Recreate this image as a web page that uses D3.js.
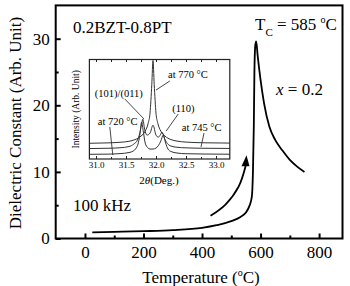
<!DOCTYPE html>
<html><head><meta charset="utf-8">
<script src="https://cdn.jsdelivr.net/npm/d3@7"></script>
<style>
body{margin:0;background:#fff}
svg{display:block}
text{font-family:"Liberation Serif","Times New Roman",serif;fill:#000}
</style>
</head><body><svg id="c" width="350" height="286"></svg>
<script>
// ---- main chart data ----
const temperature = [25, 100, 200, 300, 400, 450, 500, 530, 550, 562, 570, 574, 577, 579, 582, 585, 590, 600, 612, 630, 650, 675, 700, 725, 750];
const dielectric  = [0.93, 1.0, 1.1, 1.25, 1.6, 2.0, 2.6, 3.2, 3.9, 4.9, 6.2, 10, 17, 25, 29, 29.6, 27.5, 23.8, 20.3, 16.8, 14.8, 13.2, 11.8, 10.8, 10.0];
const xTickValues = [0, 200, 400, 600, 800];
const xMinorTicks = [100, 300, 500, 700];
const yTickValues = [0, 10, 20, 30];
const yMinorTicks = [5, 15, 25];
const arrowT = [429, 480, 525, 552];
const arrowV = [3.4, 5.1, 7.8, 12.5];

// ---- inset XRD data ----
const theta720 = [30.89, 31.2, 31.4, 31.55, 31.62, 31.67, 31.70, 31.73, 31.76, 31.79, 31.82, 31.86, 31.9, 31.95, 32.0, 32.04, 32.08, 32.12, 32.16, 32.2, 32.25, 32.35, 32.5, 32.8, 33.23];
const int720   = [4.7, 4.9, 5.4, 6.5, 8, 11, 15, 24, 37, 27, 16, 11.5, 10, 10, 11, 13.5, 18, 24, 16, 10, 7.5, 6, 5.3, 5, 4.8];
const theta745 = [30.89, 31.2, 31.4, 31.55, 31.63, 31.69, 31.73, 31.76, 31.78, 31.81, 31.85, 31.9, 31.95, 32.0, 32.04, 32.07, 32.1, 32.14, 32.19, 32.25, 32.35, 32.5, 32.8, 33.23];
const int745   = [10.5, 10.8, 11.3, 12.5, 15, 19, 26, 35, 40, 30, 24, 26, 34, 24, 22, 24, 27, 21, 15.5, 13, 11.8, 11.2, 10.8, 10.6];
const theta770 = [30.89, 31.2, 31.4, 31.55, 31.65, 31.75, 31.82, 31.87, 31.9, 31.93, 31.95, 31.97, 32.0, 32.03, 32.08, 32.15, 32.25, 32.35, 32.5, 32.8, 33.23];
const int770   = [15.8, 16.2, 16.8, 17.8, 19.5, 23, 28, 36, 46, 75, 99, 75, 46, 36, 28, 23, 19.5, 18, 17, 16.3, 16];
const insetTicks = [31.0, 31.5, 32.0, 32.5, 33.0];
const insetMinor = [31.25, 31.75, 32.25, 32.75];

const svg = d3.select("#c");
const x = d3.scaleLinear().domain([-100, 880]).range([55.7, 342.5]);
const y = d3.scaleLinear().domain([0, 35]).range([238.5, 5.4]);

// inset
const ix = d3.scaleLinear().domain([30.89, 33.23]).range([89.4, 229.8]);
const iy = d3.scaleLinear().domain([0, 100]).range([159, 59.5]);

const ink = "#222";
function zip(a, b) { return a.map((v, i) => [v, b[i]]); }

// ---- inset drawing ----
const inset = svg.append("g");
const ilinegen = d3.line().x(d => ix(d[0])).y(d => iy(d[1])).curve(d3.curveMonotoneX);
[[theta720, int720], [theta745, int745], [theta770, int770]].forEach(([t, v]) => {
  inset.append("path").datum(zip(t, v)).attr("d", ilinegen)
    .attr("fill", "none").attr("stroke", "#333").attr("stroke-width", 1);
});
inset.append("rect").attr("x", ix.range()[0]).attr("y", iy.range()[1])
  .attr("width", ix.range()[1] - ix.range()[0]).attr("height", iy.range()[0] - iy.range()[1])
  .attr("fill", "none").attr("stroke", ink).attr("stroke-width", 1.2);
const ib = inset.append("g").attr("transform", `translate(0,${iy.range()[0]})`)
  .call(d3.axisBottom(ix).tickValues(insetTicks).tickSizeInner(-3).tickSizeOuter(0).tickPadding(3).tickFormat(d3.format(".1f")));
ib.select(".domain").remove();
ib.selectAll("text").attr("font-size", 9).attr("fill", "#444").style("font-family", '"Liberation Serif",serif');
ib.selectAll("line").attr("stroke", ink);
const ibm = inset.append("g").attr("transform", `translate(0,${iy.range()[0]})`)
  .call(d3.axisBottom(ix).tickValues(insetMinor).tickSizeInner(-2).tickSizeOuter(0).tickFormat(""));
ibm.select(".domain").remove(); ibm.selectAll("line").attr("stroke", ink);
const it = inset.append("g").attr("transform", `translate(0,${iy.range()[1]})`)
  .call(d3.axisTop(ix).tickValues(insetTicks.concat(insetMinor)).tickSizeInner(-2.5).tickSizeOuter(0).tickFormat(""));
it.select(".domain").remove(); it.selectAll("line").attr("stroke", ink);

inset.append("text").attr("transform", `translate(79,${(iy.range()[0] + iy.range()[1]) / 2}) rotate(-90)`)
  .attr("text-anchor", "middle").attr("font-size", 9.5).attr("fill", "#444").text("Intensity (Arb. Unit)");
const ixl = inset.append("text").attr("x", ix(32.05)).attr("y", 184).attr("text-anchor", "middle").attr("font-size", 11).attr("fill", "#333");
ixl.append("tspan").text("2");
ixl.append("tspan").attr("font-style", "italic").text("θ");
ixl.append("tspan").text("(Deg.)");

const insetNotes = [
  { label: "at 770 °C", t: 32.20, i: 81.4, from: [32.23, 78.4], to: [32.00, 69.3] },
  { label: "(101)/(011)", t: 30.98, i: 62.3, from: [31.48, 60.3], to: [31.80, 40.2] },
  { label: "(110)", t: 32.27, i: 47.2, from: [32.37, 45.2], to: [32.17, 28.1] },
  { label: "at 720 °C", t: 31.03, i: 34.2, from: [31.23, 32.2], to: [31.28, 4.0] },
  { label: "at 745 °C", t: 32.43, i: 28.1, from: [32.80, 26.1], to: [32.75, 12.1] }
];
insetNotes.forEach(n => {
  inset.append("text").attr("x", ix(n.t)).attr("y", iy(n.i)).attr("font-size", 10.5).attr("fill", "#333").text(n.label);
  inset.append("line").attr("x1", ix(n.from[0])).attr("y1", iy(n.from[1]))
    .attr("x2", ix(n.to[0])).attr("y2", iy(n.to[1])).attr("stroke", "#333").attr("stroke-width", 0.9);
});

// ---- main curve ----
const linegen = d3.line().x(d => x(d[0])).y(d => y(d[1])).curve(d3.curveMonotoneX);
svg.append("path").datum(zip(temperature, dielectric)).attr("d", linegen)
  .attr("fill", "none").attr("stroke", "#000").attr("stroke-width", 1.8);

// arrow
const adata = zip(arrowT, arrowV);
svg.append("path").datum(adata.slice(0, 3).concat([[arrowT[3] - 3, arrowV[3] - 1.6]]))
  .attr("d", d3.line().x(d => x(d[0])).y(d => y(d[1])).curve(d3.curveCatmullRom))
  .attr("fill", "none").attr("stroke", "#000").attr("stroke-width", 1.8);
const tip = [x(arrowT[3]), y(arrowV[3])];
svg.append("path").attr("d", `M${tip[0]},${tip[1]} L${tip[0] - 5},${tip[1] + 11} L${tip[0] + 3},${tip[1] + 11} Z`)
  .attr("fill", "#000");

// frame & axes
svg.append("rect").attr("x", x.range()[0]).attr("y", y.range()[1])
  .attr("width", x.range()[1] - x.range()[0]).attr("height", y.range()[0] - y.range()[1])
  .attr("fill", "none").attr("stroke", "#000").attr("stroke-width", 2);

const gx = svg.append("g").attr("transform", `translate(0,${y.range()[0]})`)
  .call(d3.axisBottom(x).tickValues(xTickValues).tickSizeInner(-5).tickSizeOuter(0).tickPadding(7));
const gxm = svg.append("g").attr("transform", `translate(0,${y.range()[0]})`)
  .call(d3.axisBottom(x).tickValues(xMinorTicks).tickSizeInner(-3).tickSizeOuter(0).tickFormat(""));
const gy = svg.append("g").attr("transform", `translate(${x.range()[0]},0)`)
  .call(d3.axisLeft(y).tickValues(yTickValues).tickSizeInner(-5).tickSizeOuter(0).tickPadding(6));
const gym = svg.append("g").attr("transform", `translate(${x.range()[0]},0)`)
  .call(d3.axisLeft(y).tickValues(yMinorTicks).tickSizeInner(-3).tickSizeOuter(0).tickFormat(""));
[gx, gxm, gy, gym].forEach(g => {
  g.select(".domain").remove();
  g.selectAll("line").attr("stroke", "#000").attr("stroke-width", 2);
  g.selectAll("text").attr("font-size", 17).attr("fill", "#000").style("font-family", '"Liberation Serif",serif');
});

// labels
const xl = svg.append("text").attr("x", 201).attr("y", 283).attr("text-anchor", "middle").attr("font-size", 17);
xl.append("tspan").text("Temperature (");
xl.append("tspan").attr("font-size", 10).attr("dy", -7).text("o");
xl.append("tspan").attr("dy", 7).text("C)");

svg.append("text").attr("transform", "translate(21,123) rotate(-90)").attr("text-anchor", "middle")
  .attr("font-size", 17).text("Dielectric Constant (Arb. Unit)");

svg.append("text").attr("x", 73).attr("y", 33).attr("font-size", 17).text("0.2BZT-0.8PT");
const tc = svg.append("text").attr("x", 255).attr("y", 30).attr("font-size", 17);
tc.append("tspan").text("T");
tc.append("tspan").attr("font-size", 11).attr("dy", 6).text("C");
tc.append("tspan").attr("dy", -6).text(" = 585 ");
tc.append("tspan").attr("font-size", 10).attr("dy", -7).text("o");
tc.append("tspan").attr("dy", 7).text("C");
const xc = svg.append("text").attr("x", 276).attr("y", 95).attr("font-size", 17);
xc.append("tspan").attr("font-style", "italic").text("x");
xc.append("tspan").text(" = 0.2");
svg.append("text").attr("x", 73).attr("y", 211).attr("font-size", 17).text("100 kHz");
</script>
</body></html>
